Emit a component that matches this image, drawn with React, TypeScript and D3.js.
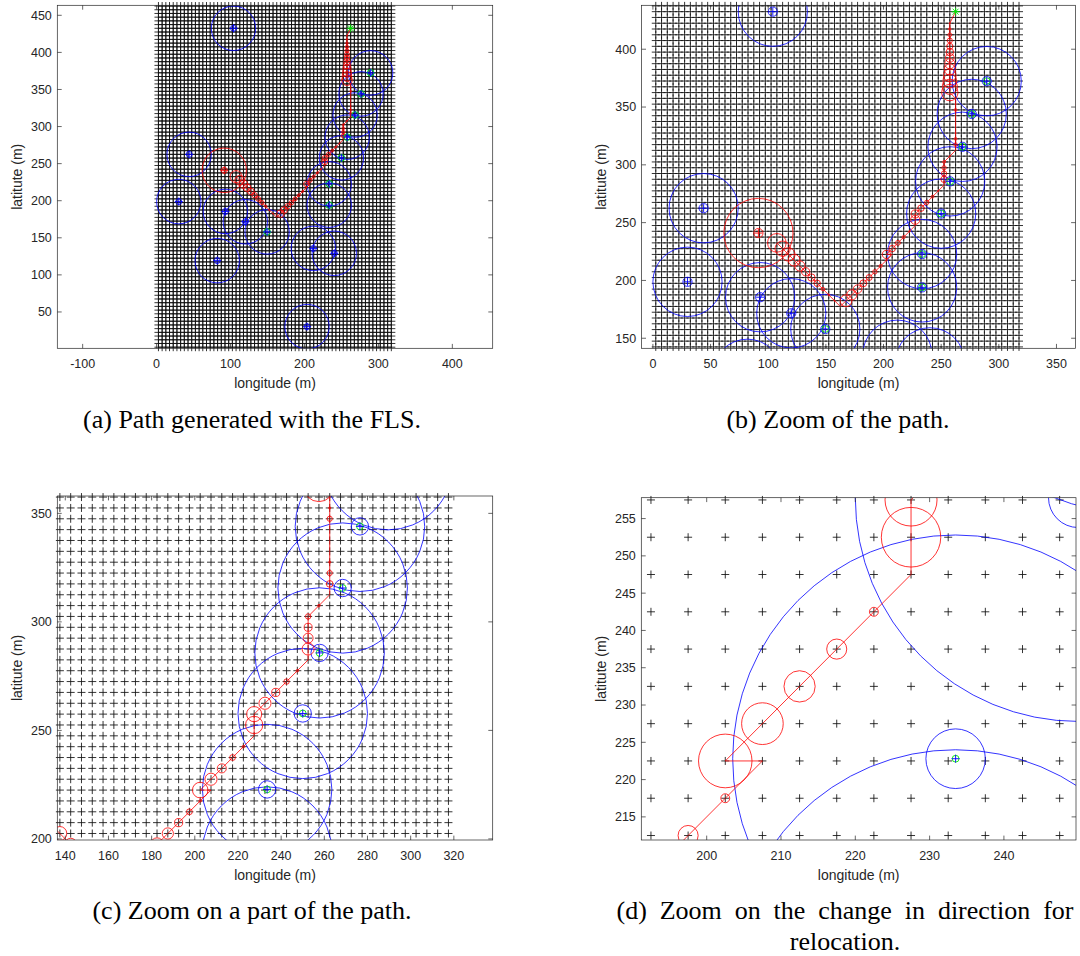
import React from 'react';
import * as d3 from 'd3';

// ---------- data ----------
const CELL_SIZE = 5;
const GRID_COLS = 64;
const GRID_ROWS = 93;

const OBSTACLE_X = [104, 289.5, 276.5, 268.5, 257.8, 250, 233.5, 233.5, 44, 30, 93, 120, 149.5, 82, 212, 240.3, 203.5];
const OBSTACLE_Y = [432.5, 372.4, 344, 315.6, 285.7, 257.8, 222.8, 194, 262.5, 198.8, 185.5, 171.6, 158, 119.2, 135.7, 129.1, 30.2];
const OBSTACLE_DETECTED = [false, true, true, true, true, true, true, true, false, false, false, false, true, false, false, false, false];
const SAFETY_RADIUS = 30;
const OBSTACLE_RADIUS = 4;

const START = [91.5, 241];
const START_RADIUS = 30;
const GOAL = [262.5, 432.5];

const PATH_X = [
  107.5, 112.5, 117.5, 122.5, 127.5, 132.5, 137.5, 142.5, 147.5, 152.5, 157.5, 162.5,
  167.5, 172.5, 177.5, 182.5, 187.5, 192.5, 197.5, 202.5, 207.5,
  202.5, 207.5, 212.5, 217.5, 222.5, 227.5,
  227.5, 227.5, 232.5, 237.5, 242.5, 247.5, 252.5,
  252.5, 252.5, 252.5, 252.5, 257.5, 262.5,
  262.5, 262.5, 262.5, 262.5, 262.5, 262.5, 262.5, 262.5, 262.5,
  257.5, 257.5, 257.5, 257.5, 257.5, 257.5, 257.5, 257.5, 257.5, 257.5, 257.5, 257.5, 257.5,
];
const PATH_Y = [
  232.5, 227.5, 222.5, 217.5, 212.5, 207.5, 202.5, 197.5, 192.5, 187.5, 182.5, 177.5,
  182.5, 187.5, 192.5, 197.5, 202.5, 207.5, 212.5, 217.5, 222.5,
  222.5, 227.5, 232.5, 237.5, 242.5, 247.5,
  252.5, 257.5, 262.5, 267.5, 272.5, 277.5, 282.5,
  287.5, 292.5, 297.5, 302.5, 307.5, 312.5,
  317.5, 322.5, 327.5, 332.5, 337.5, 342.5, 347.5, 352.5, 357.5,
  362.5, 367.5, 372.5, 377.5, 382.5, 387.5, 392.5, 397.5, 402.5, 407.5, 412.5, 417.5, 422.5,
];
const PATH_R = [
  8.1, 6.6, 5.8, 5.1, 4.4, 3.6, 3.2, 2.8, 1.5, 0.8, 0.5, 0,
  5.1, 4.4, 3.7, 3.0, 2.6, 1.9, 1.35, 0.6, 0,
  3.6, 2.8, 2.1, 1.35, 0.6, 0,
  4.0, 3.5, 2.8, 1.9, 1.25, 0.6, 0,
  2.8, 2.3, 1.85, 1.25, 0.6, 0,
  1.55, 1.2, 0.5, 0, 0, 0, 1.2, 0.5, 0,
  7.1, 6.6, 6.0, 5.5, 4.9, 4.4, 3.8, 3.3, 2.7, 2.2, 1.6, 1.1, 0.5,
];

const PANEL_IDS = ['a', 'b', 'c', 'd'];
const X_DOMAINS = [[-134.3, 454.6], [-9.8, 366.5], [136.3, 338], [191.2, 249.7]];
const Y_DOMAINS = [[1.0, 463.5], [141.3, 438], [199.5, 358], [211.9, 257.8]];
const X_TICKS = [
  [-100, 0, 100, 200, 300, 400],
  [0, 50, 100, 150, 200, 250, 300, 350],
  [140, 160, 180, 200, 220, 240, 260, 280, 300, 320],
  [200, 210, 220, 230, 240],
];
const Y_TICKS = [
  [50, 100, 150, 200, 250, 300, 350, 400, 450],
  [150, 200, 250, 300, 350, 400],
  [200, 250, 300, 350],
  [215, 220, 225, 230, 235, 240, 245, 250, 255],
];
const X_LABEL = 'longitude (m)';
const Y_LABEL = 'latitute (m)';

const CAPTIONS = [
  ['(a) Path generated with the FLS.'],
  ['(b) Zoom of the path.'],
  ['(c) Zoom on a part of the path.'],
  ['(d) Zoom on the change in direction for', 'relocation.'],
];

// ---------- layout ----------
const W = 1080;
const H = 956;
const RECTS = [
  [57.3, 5.3, 492.7, 348.3],
  [641.6, 5.3, 1075.5, 348.3],
  [57.3, 496, 492.7, 840],
  [641.3, 497.7, 1076, 840],
];
const CAPTION_X = [252, 838, 252, 845];
const CAPTION_Y = [428, 428, 919, 919];

const AX_COLOR = '#262626';
const BLUE = '#0000ff';
const RED = '#ff0000';
const GREEN = '#00ee00';
const TICK_LEN = 4.4;
const MS = 4; // marker half size px

function Panel({ idx }: { idx: number }) {
  const id = PANEL_IDS[idx];
  const [x0, y0, x1, y1] = RECTS[idx];
  const xd = X_DOMAINS[idx];
  const yd = Y_DOMAINS[idx];
  const xs = d3.scaleLinear().domain(xd).range([x0, x1]);
  const ys = d3.scaleLinear().domain(yd).range([y1, y0]);
  const inside = (x: number, y: number) => x >= xd[0] && x <= xd[1] && y >= yd[0] && y <= yd[1];
  const kx = Math.abs(xs(1) - xs(0));
  const ky = Math.abs(ys(1) - ys(0));

  // grid plus markers
  let gd = '';
  for (let i = 0; i < GRID_COLS; i++) {
    for (let j = 0; j < GRID_ROWS; j++) {
      const gx = CELL_SIZE * (i + 0.5);
      const gy = CELL_SIZE * (j + 0.5);
      if (!inside(gx, gy)) continue;
      const px = xs(gx);
      const py = ys(gy);
      gd += `M${(px - MS).toFixed(2)},${py.toFixed(2)}h${2 * MS}M${px.toFixed(2)},${(py - MS).toFixed(2)}v${2 * MS}`;
    }
  }

  const pathD = d3.line()(PATH_X.map((x, i) => [xs(x), ys(PATH_Y[i])] as [number, number])) || '';

  const clipId = `clip-${id}`;
  const cx = (x0 + x1) / 2;
  const cy = (y0 + y1) / 2;

  const plus = (px: number, py: number) => `M${px - MS},${py}h${2 * MS}M${px},${py - MS}v${2 * MS}`;

  return (
    <g>
      <defs>
        <clipPath id={clipId}>
          <rect x={x0} y={y0} width={x1 - x0} height={y1 - y0} />
        </clipPath>
      </defs>
      <rect x={x0} y={y0} width={x1 - x0} height={y1 - y0} fill="#fff" />
      <path d={gd} stroke="#111" strokeWidth={0.85} fill="none" />

      {/* obstacles */}
      <g clipPath={`url(#${clipId})`} fill="none">
        {OBSTACLE_X.map((ox, i) => (
          <g key={i}>
            <ellipse cx={xs(ox)} cy={ys(OBSTACLE_Y[i])} rx={SAFETY_RADIUS * kx} ry={SAFETY_RADIUS * ky} stroke={BLUE} strokeWidth={0.8} />
            <ellipse cx={xs(ox)} cy={ys(OBSTACLE_Y[i])} rx={OBSTACLE_RADIUS * kx} ry={OBSTACLE_RADIUS * ky} stroke={BLUE} strokeWidth={0.8} />
          </g>
        ))}
        {/* start uncertainty */}
        <ellipse cx={xs(START[0])} cy={ys(START[1])} rx={START_RADIUS * kx} ry={START_RADIUS * ky} stroke={RED} strokeWidth={0.8} />
        <ellipse cx={xs(START[0])} cy={ys(START[1])} rx={OBSTACLE_RADIUS * kx} ry={OBSTACLE_RADIUS * ky} stroke={RED} strokeWidth={0.8} />
        {/* path */}
        <path d={pathD} stroke={RED} strokeWidth={0.8} />
        <line x1={xs(PATH_X[PATH_X.length - 1])} y1={ys(PATH_Y[PATH_Y.length - 1])} x2={xs(GOAL[0])} y2={ys(GOAL[1])} stroke={RED} strokeWidth={0.8} />
        {PATH_X.map((px, i) =>
          PATH_R[i] > 0 ? (
            <ellipse key={i} cx={xs(px)} cy={ys(PATH_Y[i])} rx={PATH_R[i] * kx} ry={PATH_R[i] * ky} stroke={RED} strokeWidth={0.8} />
          ) : null
        )}
      </g>

      {/* markers (not clipped) */}
      <g fill="none">
        {OBSTACLE_X.map((ox, i) => {
          if (!inside(ox, OBSTACLE_Y[i])) return null;
          const px = xs(ox);
          const py = ys(OBSTACLE_Y[i]);
          return (
            <g key={i}>
              {OBSTACLE_DETECTED[i] ? <circle cx={px} cy={py} r={3.4} stroke={GREEN} strokeWidth={0.9} /> : null}
              <path d={plus(px, py)} stroke={BLUE} strokeWidth={0.9} />
            </g>
          );
        })}
        {inside(START[0], START[1]) ? <path d={plus(xs(START[0]), ys(START[1]))} stroke={RED} strokeWidth={0.9} /> : null}
        {inside(GOAL[0], GOAL[1]) ? (
          <path
            d={`${plus(xs(GOAL[0]), ys(GOAL[1]))}M${xs(GOAL[0]) - 3},${ys(GOAL[1]) - 3}l6,6M${xs(GOAL[0]) - 3},${ys(GOAL[1]) + 3}l6,-6`}
            stroke={GREEN}
            strokeWidth={0.9}
          />
        ) : null}
      </g>

      {/* axes */}
      <g stroke={AX_COLOR} strokeWidth={0.7}>
        {X_TICKS[idx].map((t) => (
          <g key={`xt${t}`}>
            <line x1={xs(t)} x2={xs(t)} y1={y1} y2={y1 - TICK_LEN} />
            <line x1={xs(t)} x2={xs(t)} y1={y0} y2={y0 + TICK_LEN} />
          </g>
        ))}
        {Y_TICKS[idx].map((t) => (
          <g key={`yt${t}`}>
            <line x1={x0} x2={x0 + TICK_LEN} y1={ys(t)} y2={ys(t)} />
            <line x1={x1} x2={x1 - TICK_LEN} y1={ys(t)} y2={ys(t)} />
          </g>
        ))}
        <rect x={x0} y={y0} width={x1 - x0} height={y1 - y0} fill="none" />
      </g>
      <g fontFamily="'Liberation Sans', Arial, sans-serif" fill={AX_COLOR}>
        {X_TICKS[idx].map((t) => (
          <text key={`xl${t}`} x={xs(t)} y={y1 + 19.5} fontSize={12.5} textAnchor="middle">
            {String(t)}
          </text>
        ))}
        {Y_TICKS[idx].map((t) => (
          <text key={`yl${t}`} x={x0 - 5.5} y={ys(t)} dy="0.35em" fontSize={12.5} textAnchor="end">
            {String(t)}
          </text>
        ))}
        <text x={cx} y={y1 + 39.5} fontSize={14} textAnchor="middle">
          {X_LABEL}
        </text>
        <text transform={`translate(${x0 - 40.6},${cy}) rotate(-90)`} dy="0.35em" fontSize={14} textAnchor="middle">
          {Y_LABEL}
        </text>
      </g>
    </g>
  );
}

export default function App() {
  return (
    <svg
      width={W}
      height={H}
      viewBox={`0 0 ${W} ${H}`}
      style={{ position: 'absolute', left: 0, top: 0, background: '#fff' }}
    >
      <rect x={0} y={0} width={W} height={H} fill="#fff" />
      {PANEL_IDS.map((_, i) => (
        <Panel key={i} idx={i} />
      ))}
      <g fontFamily="'Liberation Serif', 'Times New Roman', serif" fontSize={26} fill="#000">
        {CAPTIONS.map((lines, i) =>
          lines.map((ln, k) => (
            <text
              key={`${i}-${k}`}
              x={CAPTION_X[i]}
              y={CAPTION_Y[i] + k * 31}
              textAnchor="middle"
              style={lines.length > 1 && k === 0 ? { wordSpacing: '6.4px' } : undefined}
            >
              {ln}
            </text>
          ))
        )}
      </g>
    </svg>
  );
}
